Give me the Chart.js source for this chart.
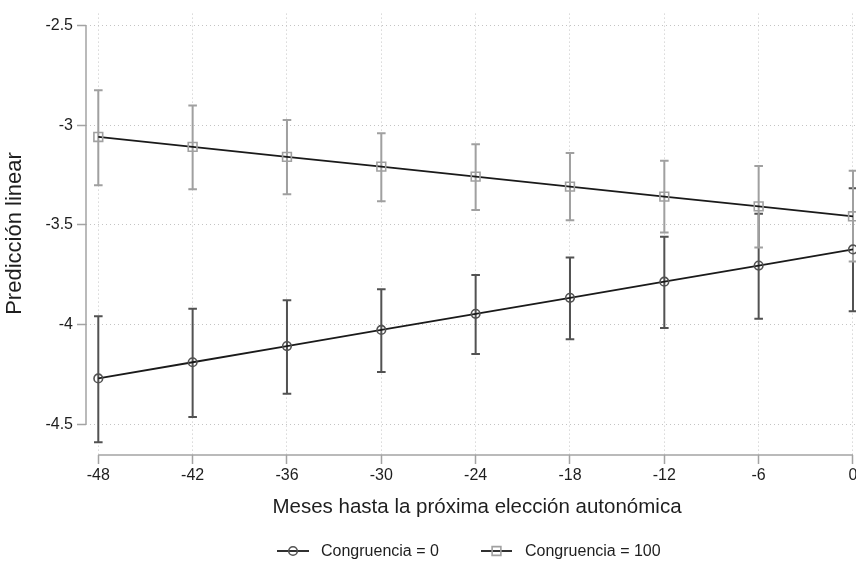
<!DOCTYPE html>
<html>
<head>
<meta charset="utf-8">
<script src="https://cdn.jsdelivr.net/npm/chart.js@4/dist/chart.umd.min.js"></script>
<style>
  html, body { margin: 0; padding: 0; background: #ffffff; }
  #wrap { width: 856px; height: 563px; }
</style>
</head>
<body>
<div id="wrap"><canvas id="chart" width="856" height="563"></canvas></div>
<script>
// Months until the next regional election
const months = [-48, -42, -36, -30, -24, -18, -12, -6, 0];

// Linear prediction, Congruencia = 0, with 95% interval
const pred0 = [-4.270, -4.189, -4.108, -4.027, -3.946, -3.866, -3.785, -3.704, -3.623];
const lo0   = [-4.590, -4.464, -4.347, -4.238, -4.148, -4.074, -4.017, -3.971, -3.933];
const hi0   = [-3.958, -3.921, -3.878, -3.823, -3.752, -3.663, -3.560, -3.444, -3.316];

// Linear prediction, Congruencia = 100, with 95% interval
const pred100 = [-3.059, -3.109, -3.159, -3.208, -3.258, -3.308, -3.358, -3.407, -3.457];
const lo100   = [-3.301, -3.321, -3.347, -3.381, -3.425, -3.477, -3.538, -3.613, -3.684];
const hi100   = [-2.825, -2.901, -2.974, -3.041, -3.096, -3.140, -3.178, -3.205, -3.228];

const xTicks = [-48, -42, -36, -30, -24, -18, -12, -6, 0];
const yTicks = [-2.5, -3, -3.5, -4, -4.5];

const seriesLabels = ['Congruencia = 0', 'Congruencia = 100'];
const xTitle = 'Meses hasta la próxima elección autonómica';
const yTitle = 'Predicción linear';

const FONT = "'Liberation Sans', Arial, Helvetica, sans-serif";
const TEXT = '#1e1e1e';
const AXIS = '#a3a3a3';
const DARK = '#525252';
const LIGHT = '#a0a0a0';

const toXY = (ys) => months.map((m, i) => ({ x: m, y: ys[i] }));

// Confidence intervals, drawn under the lines
const ciSets = [
  { lo: lo0, hi: hi0, color: DARK },
  { lo: lo100, hi: hi100, color: LIGHT }
];

const errorBars = {
  id: 'errorBars',
  beforeDatasetsDraw(chart) {
    const { ctx, scales: { x, y } } = chart;
    ctx.save();
    ctx.lineWidth = 2;
    ctx.lineCap = 'butt';
    ciSets.forEach(s => {
      ctx.strokeStyle = s.color;
      months.forEach((m, i) => {
        const px = x.getPixelForValue(m);
        const pTop = y.getPixelForValue(s.hi[i]);
        const pBot = y.getPixelForValue(s.lo[i]);
        ctx.beginPath();
        ctx.moveTo(px, pTop); ctx.lineTo(px, pBot);
        ctx.moveTo(px - 4.3, pTop); ctx.lineTo(px + 4.3, pTop);
        ctx.moveTo(px - 4.3, pBot); ctx.lineTo(px + 4.3, pBot);
        ctx.stroke();
      });
    });
    ctx.restore();
  }
};

// Axis lines spanning only the labelled range, plus axis titles
const axisDecor = {
  id: 'axisDecor',
  afterDraw(chart) {
    const { ctx, scales: { x, y }, chartArea } = chart;
    ctx.save();
    ctx.strokeStyle = AXIS;
    ctx.lineWidth = 1.5;
    const ax = chartArea.left;
    ctx.beginPath();
    ctx.moveTo(ax, y.getPixelForValue(yTicks[0]));
    ctx.lineTo(ax, y.getPixelForValue(yTicks[yTicks.length - 1]));
    ctx.stroke();
    const ay = chartArea.bottom;
    ctx.beginPath();
    ctx.moveTo(x.getPixelForValue(xTicks[0]), ay);
    ctx.lineTo(x.getPixelForValue(xTicks[xTicks.length - 1]), ay);
    ctx.stroke();

    ctx.fillStyle = TEXT;
    ctx.textAlign = 'center';
    ctx.textBaseline = 'alphabetic';
    ctx.font = '20.5px ' + FONT;
    ctx.fillText(xTitle, 477, 512.5);

    ctx.font = '22px ' + FONT;
    ctx.translate(20.8, 233.5);
    ctx.rotate(-Math.PI / 2);
    ctx.fillText(yTitle, 0, 0);
    ctx.restore();
  }
};

// Legend row: line with marker, then label
const legendRow = {
  id: 'legendRow',
  afterDraw(chart) {
    const { ctx } = chart;
    const yMid = 551;
    const items = [
      { x0: 277, x1: 309, mx: 293, style: 'circle', color: DARK, r: 4.3, label: seriesLabels[0], tx: 321 },
      { x0: 481, x1: 512, mx: 496.5, style: 'rect', color: LIGHT, r: 6.2, label: seriesLabels[1], tx: 525 }
    ];
    ctx.save();
    items.forEach(it => {
      ctx.strokeStyle = '#1a1a1a';
      ctx.lineWidth = 1.8;
      ctx.beginPath();
      ctx.moveTo(it.x0, yMid); ctx.lineTo(it.x1, yMid);
      ctx.stroke();
      ctx.strokeStyle = it.color;
      ctx.lineWidth = 1.6;
      ctx.beginPath();
      if (it.style === 'circle') {
        ctx.arc(it.mx, yMid, it.r, 0, Math.PI * 2);
      } else {
        const h = it.r * Math.SQRT1_2;
        ctx.rect(it.mx - h, yMid - h, 2 * h, 2 * h);
      }
      ctx.stroke();
      ctx.fillStyle = TEXT;
      ctx.font = '16px ' + FONT;
      ctx.textAlign = 'left';
      ctx.textBaseline = 'middle';
      ctx.fillText(it.label, it.tx, yMid + 1);
    });
    ctx.restore();
  }
};

new Chart(document.getElementById('chart'), {
  type: 'line',
  data: {
    datasets: [
      {
        label: seriesLabels[0],
        data: toXY(pred0),
        borderColor: '#1a1a1a',
        borderWidth: 1.8,
        pointStyle: 'circle',
        pointRadius: 4.3,
        pointHoverRadius: 4.3,
        pointBorderColor: DARK,
        pointBackgroundColor: 'rgba(0,0,0,0)',
        pointBorderWidth: 1.6,
        tension: 0,
        clip: false
      },
      {
        label: seriesLabels[1],
        data: toXY(pred100),
        borderColor: '#1a1a1a',
        borderWidth: 1.8,
        pointStyle: 'rect',
        pointRadius: 6.2,
        pointHoverRadius: 6.2,
        pointBorderColor: LIGHT,
        pointBackgroundColor: 'rgba(0,0,0,0)',
        pointBorderWidth: 1.6,
        tension: 0,
        clip: false
      }
    ]
  },
  options: {
    responsive: false,
    animation: false,
    devicePixelRatio: 1,
    events: [],
    layout: { autoPadding: false, padding: { top: 10, left: 0, right: 0, bottom: 0 } },
    plugins: {
      legend: { display: false },
      tooltip: { enabled: false }
    },
    scales: {
      x: {
        type: 'linear',
        position: 'bottom',
        min: -48.782,
        max: 0.191,
        afterBuildTicks: (s) => { s.ticks = xTicks.map(v => ({ value: v })); },
        afterFit: (s) => {
          s.height = 108;
          s.paddingLeft = 0;
          s.paddingRight = 0;
        },
        ticks: {
          color: TEXT,
          font: { family: FONT, size: 16 },
          padding: 2,
          maxRotation: 0,
          autoSkip: false,
          callback: (v) => String(v)
        },
        grid: {
          color: '#c4c4c4',
          lineWidth: 1,
          drawTicks: true,
          tickLength: 9,
          tickColor: AXIS,
          tickWidth: 1.5,
          tickBorderDash: []
        },
        border: { display: false, dash: [1, 3] },
        title: { display: false }
      },
      y: {
        type: 'linear',
        position: 'left',
        min: -4.6542,
        max: -2.4403,
        afterBuildTicks: (s) => { s.ticks = yTicks.map(v => ({ value: v })); },
        afterFit: (s) => { s.width = 86; },
        ticks: {
          color: TEXT,
          font: { family: FONT, size: 16 },
          padding: 4,
          autoSkip: false,
          callback: (v) => String(v)
        },
        grid: {
          color: '#c4c4c4',
          lineWidth: 1,
          drawTicks: true,
          tickLength: 9,
          tickColor: AXIS,
          tickWidth: 1.5,
          tickBorderDash: []
        },
        border: { display: false, dash: [1, 3] },
        title: { display: false }
      }
    }
  },
  plugins: [errorBars, axisDecor, legendRow]
});
</script>
</body>
</html>
